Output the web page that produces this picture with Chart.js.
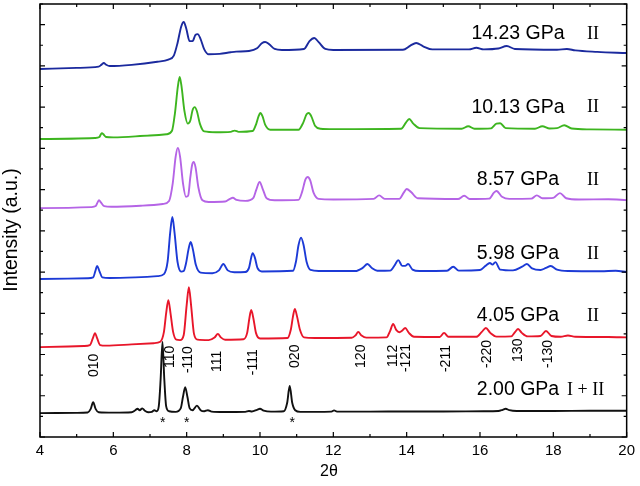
<!DOCTYPE html>
<html>
<head>
<meta charset="utf-8">
<script src="https://cdn.jsdelivr.net/npm/chart.js@4/dist/chart.umd.min.js"></script>
<style>
  body { margin: 0; background: #fff; }
</style>
</head>
<body>
<canvas id="chart" width="640" height="486"></canvas>
<script>
// XRD patterns, [2theta, intensity + offset]
const p200 = [[4,1.16],[5.0,1.17],[5.3,1.19],[5.38,1.35],[5.45,1.69],[5.52,1.35],[5.6,1.2],[6.0,1.18],[6.5,1.2],[6.6,1.3],[6.66,1.37],[6.72,1.3],[6.79,1.39],[6.86,1.27],[6.95,1.2],[7.05,1.22],[7.12,1.3],[7.18,1.25],[7.24,1.5],[7.29,2.8],[7.34,4.61],[7.39,2.8],[7.44,1.5],[7.52,1.25],[7.7,1.22],[7.84,1.4],[7.9,1.95],[7.96,2.42],[8.02,1.95],[8.08,1.4],[8.16,1.3],[8.28,1.52],[8.38,1.3],[8.48,1.25],[8.58,1.3],[8.68,1.23],[9.0,1.21],[9.6,1.22],[9.7,1.26],[9.78,1.24],[9.92,1.32],[10.0,1.37],[10.1,1.28],[10.3,1.23],[10.65,1.25],[10.74,1.65],[10.81,2.47],[10.88,1.65],[10.96,1.3],[11.1,1.22],[11.5,1.22],[11.95,1.23],[12.02,1.29],[12.1,1.23],[13,1.23],[14,1.24],[15,1.24],[16.1,1.25],[16.5,1.26],[16.62,1.32],[16.7,1.37],[16.8,1.3],[17,1.26],[18,1.26],[19,1.27],[20,1.27]];
const p405 = [[4,4.36],[5.2,4.41],[5.36,4.45],[5.44,4.78],[5.5,5.04],[5.56,4.78],[5.64,4.46],[5.8,4.43],[6.5,4.49],[7.1,4.55],[7.28,4.62],[7.38,5.1],[7.44,6.0],[7.5,6.64],[7.56,6.0],[7.63,5.1],[7.72,4.72],[7.82,4.7],[7.92,4.95],[8.0,6.4],[8.06,7.27],[8.12,6.4],[8.2,5.0],[8.3,4.72],[8.6,4.7],[8.76,4.82],[8.85,5.0],[8.94,4.82],[9.05,4.72],[9.55,4.74],[9.65,5.05],[9.71,5.75],[9.76,6.16],[9.82,5.75],[9.89,5.05],[10.0,4.78],[10.75,4.8],[10.84,5.2],[10.9,5.85],[10.95,6.21],[11.01,5.85],[11.09,5.2],[11.2,4.83],[11.5,4.8],[12.5,4.81],[12.6,4.92],[12.68,5.09],[12.77,4.92],[12.9,4.82],[13.45,4.83],[13.55,5.15],[13.63,5.48],[13.72,5.18],[13.8,5.08],[13.88,5.16],[13.96,5.29],[14.06,5.05],[14.2,4.86],[14.9,4.85],[15.02,5.05],[15.14,4.86],[15.9,4.86],[16.05,5.1],[16.16,5.29],[16.28,5.05],[16.45,4.87],[16.85,4.88],[16.96,5.1],[17.04,5.24],[17.14,5.05],[17.3,4.88],[17.65,4.9],[17.8,5.14],[17.95,4.9],[18.2,4.86],[18.4,4.92],[18.6,4.86],[19.5,4.85],[20,4.83]];
const p598 = [[4,7.66],[5.3,7.7],[5.45,7.74],[5.51,8.05],[5.56,8.29],[5.62,8.05],[5.7,7.74],[5.9,7.71],[6.6,7.74],[7.2,7.8],[7.38,7.9],[7.48,8.5],[7.55,9.9],[7.61,10.67],[7.67,9.9],[7.75,8.5],[7.85,8.02],[7.92,8.05],[7.98,8.4],[8.05,9.1],[8.11,9.46],[8.17,9.1],[8.25,8.35],[8.38,7.97],[8.7,7.94],[8.88,8.08],[9.0,8.39],[9.12,8.08],[9.3,7.99],[9.6,8.0],[9.7,8.2],[9.76,8.7],[9.8,8.92],[9.86,8.7],[9.93,8.2],[10.05,8.03],[10.9,8.06],[10.98,8.5],[11.05,9.3],[11.12,9.67],[11.19,9.3],[11.27,8.5],[11.38,8.1],[11.6,8.05],[12.6,8.05],[12.8,8.2],[12.93,8.39],[13.06,8.18],[13.2,8.06],[13.55,8.07],[13.68,8.35],[13.77,8.58],[13.88,8.3],[13.96,8.3],[14.04,8.39],[14.16,8.12],[14.35,8.05],[15.1,8.06],[15.27,8.26],[15.42,8.07],[16.0,8.1],[16.15,8.3],[16.27,8.44],[16.34,8.36],[16.42,8.48],[16.55,8.12],[16.9,8.08],[17.15,8.26],[17.28,8.39],[17.42,8.18],[17.65,8.1],[17.8,8.2],[17.93,8.29],[18.1,8.12],[18.4,8.05],[19.3,8.04],[19.7,8.06],[20,8.0]];
const p857 = [[4,11.1],[5.4,11.15],[5.52,11.2],[5.57,11.38],[5.61,11.49],[5.66,11.38],[5.75,11.2],[5.95,11.17],[6.8,11.22],[7.35,11.3],[7.52,11.45],[7.62,12.3],[7.7,13.6],[7.76,14.02],[7.82,13.6],[7.9,12.3],[7.98,11.65],[8.04,11.7],[8.1,12.6],[8.15,13.2],[8.19,13.34],[8.24,13.1],[8.32,12.1],[8.43,11.48],[8.6,11.4],[9.05,11.42],[9.18,11.55],[9.26,11.6],[9.36,11.5],[9.6,11.45],[9.82,11.6],[9.9,12.0],[9.99,12.37],[10.08,12.0],[10.18,11.58],[10.4,11.48],[11.05,11.5],[11.15,11.9],[11.24,12.5],[11.3,12.61],[11.37,12.45],[11.46,11.85],[11.6,11.55],[12.0,11.52],[13.1,11.55],[13.25,11.72],[13.4,11.55],[13.8,11.55],[13.92,11.85],[14.0,12.03],[14.12,11.88],[14.3,11.58],[15.4,11.54],[15.57,11.7],[15.72,11.54],[16.25,11.56],[16.38,11.85],[16.45,11.93],[16.6,11.65],[16.8,11.55],[17.4,11.56],[17.55,11.72],[17.7,11.58],[18.0,11.6],[18.18,11.83],[18.35,11.58],[18.7,11.52],[19.5,11.53],[20,11.49]];
const p1013 = [[4,14.45],[5.5,14.5],[5.62,14.55],[5.66,14.68],[5.69,14.74],[5.73,14.68],[5.8,14.55],[6.0,14.53],[7.0,14.62],[7.45,14.68],[7.6,14.85],[7.68,15.7],[7.76,17.0],[7.81,17.46],[7.86,17.0],[7.94,15.8],[8.03,15.2],[8.1,15.35],[8.16,15.85],[8.22,16.0],[8.28,15.8],[8.36,15.2],[8.48,14.82],[8.8,14.78],[9.2,14.8],[9.31,14.86],[9.42,14.8],[9.8,14.84],[9.9,15.2],[9.96,15.55],[10.01,15.71],[10.07,15.55],[10.14,15.15],[10.28,14.9],[11.05,14.9],[11.18,15.25],[11.27,15.65],[11.33,15.71],[11.4,15.55],[11.5,15.1],[11.65,14.95],[12.0,14.93],[13.85,14.95],[13.98,15.25],[14.07,15.42],[14.18,15.2],[14.35,14.98],[15.5,14.95],[15.68,15.07],[15.85,14.95],[16.3,14.97],[16.45,15.2],[16.55,15.22],[16.7,14.98],[17.5,14.95],[17.7,15.07],[17.9,14.96],[18.1,14.98],[18.3,15.12],[18.5,14.96],[19,14.92],[20,14.9]];
const p1423 = [[4,17.85],[5.0,17.9],[5.6,17.96],[5.68,18.06],[5.74,18.14],[5.8,18.06],[5.9,17.99],[6.5,18.05],[7.2,18.2],[7.5,18.3],[7.65,18.5],[7.75,19.1],[7.85,19.9],[7.92,20.13],[7.99,19.8],[8.08,19.2],[8.16,19.2],[8.24,19.5],[8.3,19.54],[8.38,19.3],[8.48,18.8],[8.6,18.56],[8.9,18.58],[9.2,18.66],[9.35,18.69],[9.7,18.72],[9.92,18.85],[10.05,19.1],[10.14,19.16],[10.25,19.05],[10.4,18.82],[10.6,18.77],[11.2,18.82],[11.35,19.2],[11.48,19.35],[11.6,19.15],[11.78,18.82],[12.0,18.77],[13.9,18.78],[14.1,18.98],[14.26,19.11],[14.45,18.95],[14.7,18.8],[15.7,18.8],[15.9,18.88],[16.1,18.8],[16.5,18.84],[16.73,18.96],[16.95,18.82],[18.1,18.78],[18.37,18.82],[18.6,18.75],[19.2,18.68],[20,18.62]];

const patterns = [p200, p405, p598, p857, p1013, p1423];
const pressures = ["2.00 GPa", "4.05 GPa", "5.98 GPa", "8.57 GPa", "10.13 GPa", "14.23 GPa"];
const phases = ["I + II", "II", "II", "II", "II", "II"];
const colors = ["#111111", "#e8162a", "#1c3ad6", "#b564e6", "#3db51f", "#1b2a9e"];

// Miller indices and where they sit
const hklNames = ["010", "110", "-110", "111", "-111", "020", "120", "112", "-121", "-211", "-220", "130", "-130"];
const hklPos = [5.47, 7.54, 8.05, 8.84, 9.8, 10.97, 12.76, 13.63, 13.99, 15.07, 16.19, 17.03, 17.85];
const hklStart = [2.91, 3.35, 3.1, 3.15, 3.0, 3.35, 3.35, 3.39, 3.15, 3.15, 3.35, 3.64, 3.35];
// phase I reflections marked with *
const starPos = [7.35, 8.0, 10.88];

const labelY = [2.28, 5.87, 8.87, 12.46, 15.99, 19.54];

const FONT = "'Liberation Sans', Arial, sans-serif";

const decorations = {
  id: "decorations",
  afterDraw(chart) {
    const ctx = chart.ctx;
    const xs = chart.scales.x;
    const ys = chart.scales.y;
    const a = chart.chartArea;
    ctx.save();

    // frame
    ctx.strokeStyle = "#000";
    ctx.lineWidth = 1.5;
    ctx.strokeRect(a.left, a.top, a.right - a.left, a.bottom - a.top);

    // inward tick marks on all four sides
    ctx.lineWidth = 1.2;
    ctx.beginPath();
    for (let v = 4; v <= 20; v++) {
      const len = v % 2 === 0 ? 5 : 3;
      const px = xs.getPixelForValue(v);
      ctx.moveTo(px, a.bottom); ctx.lineTo(px, a.bottom - len);
      ctx.moveTo(px, a.top); ctx.lineTo(px, a.top + len);
    }
    for (let v = 0; v <= 21; v++) {
      const len = v % 2 === 0 ? 5 : 3;
      const py = ys.getPixelForValue(v);
      ctx.moveTo(a.left, py); ctx.lineTo(a.left + len, py);
      ctx.moveTo(a.right, py); ctx.lineTo(a.right - len, py);
    }
    ctx.stroke();

    ctx.fillStyle = "#000";

    // pressure labels and phases
    ctx.textBaseline = "middle";
    for (let i = 0; i < pressures.length; i++) {
      const py = ys.getPixelForValue(labelY[i]);
      ctx.font = "19.5px " + FONT;
      ctx.textAlign = "center";
      ctx.fillText(pressures[i], 518, py);
      ctx.font = "18px 'Liberation Serif', serif";
      ctx.textAlign = "left";
      ctx.fillText(phases[i], i === 0 ? 567 : 587, py);
    }

    // hkl labels, rotated
    ctx.font = "14px " + FONT;
    for (let i = 0; i < hklNames.length; i++) {
      ctx.save();
      ctx.translate(xs.getPixelForValue(hklPos[i]), ys.getPixelForValue(hklStart[i]));
      ctx.rotate(-Math.PI / 2);
      ctx.textAlign = "left";
      ctx.textBaseline = "middle";
      ctx.fillText(hklNames[i], 0, 0);
      ctx.restore();
    }

    // stars
    ctx.font = "14px " + FONT;
    ctx.textAlign = "center";
    ctx.textBaseline = "alphabetic";
    for (const s of starPos) {
      ctx.fillText("*", xs.getPixelForValue(s), 427);
    }

    // axis titles
    ctx.font = "16px " + FONT;
    ctx.textAlign = "center";
    ctx.textBaseline = "middle";
    ctx.fillText("2\u03b8", 329, 472);

    ctx.save();
    ctx.translate(12, 230);
    ctx.rotate(-Math.PI / 2);
    ctx.font = "19.5px " + FONT;
    ctx.fillText("Intensity (a.u.)", 0, 0);
    ctx.restore();

    ctx.restore();
  }
};

const ctx = document.getElementById("chart").getContext("2d");

new Chart(ctx, {
  type: "line",
  data: {
    datasets: patterns.map((pts, i) => ({
      label: pressures[i],
      data: pts.map(p => ({ x: p[0], y: p[1] })),
      borderColor: colors[i],
      borderWidth: 1.9,
      pointRadius: 0,
      fill: false,
      cubicInterpolationMode: "monotone",
    })),
  },
  options: {
    responsive: false,
    animation: false,
    layout: { padding: { top: 4, right: 12, left: 0, bottom: 0 } },
    plugins: {
      legend: { display: false },
      tooltip: { enabled: false },
    },
    scales: {
      x: {
        type: "linear",
        min: 4,
        max: 20,
        afterFit: (s) => { s.height = 49; },
        grid: { display: false, drawTicks: false },
        border: { display: false },
        ticks: {
          stepSize: 2,
          padding: 5,
          color: "#000",
          maxRotation: 0,
          autoSkip: false,
          font: { family: FONT, size: 15 },
        },
      },
      y: {
        min: 0,
        max: 21,
        afterFit: (s) => { s.width = 40; },
        grid: { display: false, drawTicks: false },
        border: { display: false },
        ticks: { display: false },
      },
    },
  },
  plugins: [decorations],
});
</script>
</body>
</html>
